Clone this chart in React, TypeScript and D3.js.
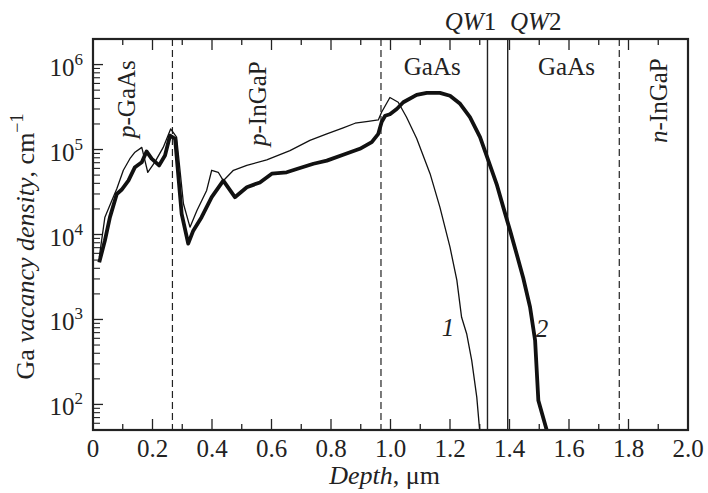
import React from 'react'
import * as d3 from 'd3'

// curve 1 (thin) and curve 2 (thick)
const depth1 = [0.021, 0.04, 0.063, 0.08, 0.102, 0.124, 0.141, 0.164, 0.184, 0.208, 0.236, 0.261, 0.281, 0.304, 0.326, 0.349, 0.382, 0.399, 0.421, 0.438, 0.472, 0.517, 0.584, 0.662, 0.729, 0.786, 0.841, 0.881, 0.925, 0.959, 0.97, 0.998, 1.026, 1.054, 1.088, 1.133, 1.166, 1.2, 1.223, 1.239, 1.256, 1.273, 1.29, 1.3]
const vac1 = [5.4e3, 1.6e4, 2.5e4, 3.45e4, 5.7e4, 7.8e4, 9.3e4, 1.06e5, 5.4e4, 7.1e4, 1.06e5, 1.75e5, 1.4e5, 2.3e4, 1.22e4, 1.9e4, 3.3e4, 5.7e4, 5.4e4, 4.3e4, 5.7e4, 6.5e4, 7.55e4, 9.7e4, 1.28e5, 1.53e5, 1.8e5, 2.04e5, 2.15e5, 2.23e5, 2.75e5, 4.1e5, 3.6e5, 2.4e5, 1.35e5, 5.2e4, 2.1e4, 7.1e3, 2.9e3, 1.06e3, 680, 330, 122, 48]

const depth2 = [0.021, 0.04, 0.057, 0.08, 0.096, 0.119, 0.141, 0.164, 0.18, 0.197, 0.222, 0.242, 0.259, 0.276, 0.298, 0.32, 0.337, 0.365, 0.399, 0.438, 0.477, 0.517, 0.561, 0.601, 0.651, 0.685, 0.741, 0.786, 0.841, 0.897, 0.937, 0.959, 0.97, 0.982, 0.998, 1.021, 1.043, 1.088, 1.122, 1.166, 1.2, 1.234, 1.267, 1.301, 1.329, 1.357, 1.379, 1.402, 1.424, 1.446, 1.469, 1.486, 1.497, 1.525]
const vac2 = [4.7e3, 8.5e3, 1.6e4, 3.0e4, 3.36e4, 4.3e4, 6.2e4, 7.1e4, 9.5e4, 7.8e4, 6.5e4, 8.5e4, 1.46e5, 1.34e5, 1.75e4, 7.8e3, 1.11e4, 1.6e4, 2.75e4, 4.3e4, 2.75e4, 3.6e4, 4.1e4, 5.2e4, 5.4e4, 5.9e4, 6.8e4, 7.4e4, 8.7e4, 1.02e5, 1.22e5, 1.53e5, 2.1e5, 2.5e5, 2.6e5, 3.0e5, 3.6e5, 4.4e5, 4.65e5, 4.65e5, 4.3e5, 3.45e5, 2.4e5, 1.4e5, 7.4e4, 3.9e4, 2.1e4, 1.11e4, 5.9e3, 3.1e3, 1.4e3, 570, 111, 50]

const xTickValues = [0, 0.2, 0.4, 0.6, 0.8, 1.0, 1.2, 1.4, 1.6, 1.8, 2.0]
const xTickLabels = ['0', '0.2', '0.4', '0.6', '0.8', '1.0', '1.2', '1.4', '1.6', '1.8', '2.0']
const yDecades = [2, 3, 4, 5, 6]

// layer boundaries
const dashedBounds = [0.267, 0.968, 1.769]
const qwLines = [1.326, 1.394]
const qwNames = ['1', '2']

const W = 708, H = 493
const margin = { top: 39, right: 20, bottom: 63, left: 93 }
const FONT = '"Liberation Serif", "DejaVu Serif", serif'

export default function App() {
  const x = d3.scaleLinear().domain([0, 2]).range([margin.left, W - margin.right])
  const y = d3.scaleLog().domain([50, 2e6]).range([H - margin.bottom, margin.top])
  const top = margin.top, bottom = H - margin.bottom
  const left = margin.left, right = W - margin.right

  const line = d3.line<[number, number]>()
    .x(d => x(d[0]))
    .y(d => y(d[1]))

  const pts1 = depth1.map((d, i) => [d, vac1[i]] as [number, number])
  const pts2 = depth2.map((d, i) => [d, vac2[i]] as [number, number])

  const minorX = d3.range(0, 21).map(i => i / 10)
  const minorY: number[] = []
  for (let k = 1; k <= 6; k++) {
    for (let m = 2; m <= 9; m++) {
      const v = m * Math.pow(10, k)
      if (v >= 50 && v <= 2e6) minorY.push(v)
    }
  }

  return (
    <div style={{ position: 'fixed', left: 0, top: 0 }}>
      <svg width={W} height={H} style={{ display: 'block', background: '#fff' }} fontFamily={FONT}>
        <defs>
          <clipPath id="plot">
            <rect x={left} y={top} width={right - left} height={bottom - top} />
          </clipPath>
        </defs>

        {/* x ticks, bottom and top, inward */}
        {minorX.map((v, i) => {
          const len = i % 2 === 0 ? 11 : 6
          return (
            <g key={'xt' + i} stroke="#222" strokeWidth={1.3}>
              <line x1={x(v)} x2={x(v)} y1={bottom} y2={bottom - len} />
              <line x1={x(v)} x2={x(v)} y1={top} y2={top + len} />
            </g>
          )
        })}
        {/* y ticks on left */}
        {yDecades.map(k => (
          <line key={'yM' + k} x1={left} x2={left + 10} y1={y(Math.pow(10, k))} y2={y(Math.pow(10, k))} stroke="#222" strokeWidth={1.3} />
        ))}
        {minorY.map((v, i) => (
          <line key={'ym' + i} x1={left} x2={left + 7} y1={y(v)} y2={y(v)} stroke="#222" strokeWidth={1.1} />
        ))}

        {/* layer boundaries */}
        {dashedBounds.map((b, i) => (
          <line key={'db' + i} x1={x(b)} x2={x(b)} y1={top} y2={bottom} stroke="#222" strokeWidth={1.2} strokeDasharray="7,4" />
        ))}
        {qwLines.map((b, i) => (
          <line key={'qw' + i} x1={x(b)} x2={x(b)} y1={top} y2={bottom} stroke="#222" strokeWidth={1.4} />
        ))}

        {/* curves */}
        <g clipPath="url(#plot)" fill="none" stroke="#111" strokeLinejoin="round">
          <path d={line(pts1) || ''} strokeWidth={1.3} />
          <path d={line(pts2) || ''} strokeWidth={3.8} />
        </g>

        {/* frame */}
        <rect x={left} y={top} width={right - left} height={bottom - top} fill="none" stroke="#222" strokeWidth={2.2} />

        {/* x tick labels */}
        {xTickValues.map((v, i) => (
          <text key={'xl' + i} x={x(v)} y={457} textAnchor="middle" fontSize={25} fill="#222">{xTickLabels[i]}</text>
        ))}
        {/* y tick labels */}
        {yDecades.map(k => (
          <text key={'yl' + k} x={83} y={y(Math.pow(10, k)) + 11} textAnchor="end" fontSize={25} fill="#222">
            10<tspan fontSize={17} dy={-11}>{k}</tspan>
          </text>
        ))}

        {/* axis titles */}
        <text x={x(1.0) - 6} y={484} textAnchor="middle" fontSize={26} fill="#222">
          <tspan fontStyle="italic">Depth</tspan>, μm
        </text>
        <text transform={`translate(34,${(top + bottom) / 2 + 12}) rotate(-90)`} textAnchor="middle" fontSize={26} fill="#222">
          Ga <tspan fontStyle="italic">vacancy density</tspan>, cm<tspan fontSize={18} dy={-11}>−1</tspan>
        </text>

        {/* QW labels */}
        {qwLines.map((b, i) => (
          <text key={'ql' + i} x={x(b) + (i === 0 ? -17 : 28)} y={30} textAnchor="middle" fontSize={25} fill="#222">
            <tspan fontStyle="italic">QW</tspan>{qwNames[i]}
          </text>
        ))}

        {/* layer names */}
        <text transform="translate(135,138) rotate(-90)" fontSize={25} fill="#222">
          <tspan fontStyle="italic">p</tspan>-GaAs
        </text>
        <text transform="translate(266,146) rotate(-90)" fontSize={25} fill="#222">
          <tspan fontStyle="italic">p</tspan>-InGaP
        </text>
        <text transform="translate(667,143) rotate(-90)" fontSize={25} fill="#222">
          <tspan fontStyle="italic">n</tspan>-InGaP
        </text>
        <text x={(x(dashedBounds[1]) + x(qwLines[0])) / 2 - 2} y={75} textAnchor="middle" fontSize={25} fill="#222">GaAs</text>
        <text x={(x(qwLines[1]) + x(dashedBounds[2])) / 2 + 3} y={75} textAnchor="middle" fontSize={25} fill="#222">GaAs</text>

        {/* curve labels */}
        <text x={448} y={336} textAnchor="middle" fontSize={25} fontStyle="italic" fill="#222">1</text>
        <text x={542} y={337} textAnchor="middle" fontSize={25} fontStyle="italic" fill="#222">2</text>
      </svg>
    </div>
  )
}
